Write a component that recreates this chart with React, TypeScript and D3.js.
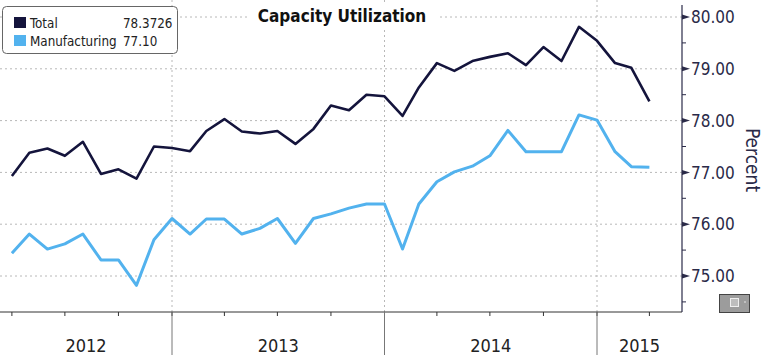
import React from "react";
import * as d3 from "d3";

const months = [
  "2012-04","2012-05","2012-06","2012-07","2012-08","2012-09","2012-10","2012-11","2012-12",
  "2013-01","2013-02","2013-03","2013-04","2013-05","2013-06","2013-07","2013-08","2013-09","2013-10","2013-11","2013-12",
  "2014-01","2014-02","2014-03","2014-04","2014-05","2014-06","2014-07","2014-08","2014-09","2014-10","2014-11","2014-12",
  "2015-01","2015-02","2015-03","2015-04",
];
const total = [
  76.93, 77.38, 77.46, 77.32, 77.59, 76.97, 77.06, 76.88, 77.50,
  77.47, 77.41, 77.80, 78.03, 77.79, 77.75, 77.80, 77.55, 77.84, 78.29, 78.20, 78.50,
  78.47, 78.09, 78.64, 79.11, 78.96, 79.15, 79.23, 79.30, 79.07, 79.42, 79.15, 79.81,
  79.54, 79.11, 79.02, 78.37,
];
const manufacturing = [
  75.44, 75.81, 75.52, 75.62, 75.81, 75.31, 75.31, 74.82, 75.70,
  76.11, 75.81, 76.10, 76.10, 75.81, 75.92, 76.11, 75.63, 76.11, 76.20, 76.31, 76.39,
  76.39, 75.52, 76.39, 76.82, 77.01, 77.12, 77.32, 77.81, 77.40, 77.40, 77.40, 78.11,
  78.01, 77.40, 77.11, 77.10,
];
const yTicks = [75, 76, 77, 78, 79, 80];
const yMinorTicks = [74.5, 75.5, 76.5, 77.5, 78.5, 79.5];
const years = [2012, 2013, 2014, 2015];
const legendItems = [
  { name: "Total", value: "78.3726", color: "#14143c" },
  { name: "Manufacturing", value: "77.10", color: "#52b2ee" },
];
const title = "Capacity Utilization";
const yLabel = "Percent";

const W = 768, H = 355;
const plotLeft = 0, plotRight = 682, axisY = 312, plotTop = 5;
const font = "'DejaVu Sans Condensed', 'DejaVu Sans', sans-serif";
const textColor = "#2a2a48";

const parse = d3.timeParse("%Y-%m");

export default function App() {
  const dates = months.map((m) => parse(m) as Date);
  const x = d3
    .scaleTime()
    .domain([new Date(2013, 0, 1), new Date(2015, 0, 1)])
    .range([172, 597]);
  const y = d3.scaleLinear().domain([75, 80]).range([276, 17]);

  const line = d3
    .line<number>()
    .x((_, i) => x(dates[i]))
    .y((v) => y(v));

  const xStart = x.invert(plotLeft);
  const xEnd = x.invert(plotRight);
  const quarterTicks = d3.timeMonth.every(3)!.range(xStart, xEnd);
  const yearBounds = years.map((yr) => new Date(yr, 0, 1));

  return (
    <svg
      width={W}
      height={H}
      style={{ position: "absolute", left: 0, top: 0, background: "#fff" }}
      fontFamily={font}
    >
      <rect x={0} y={0} width={W} height={H} fill="#fff" />
      {yTicks.map((t) => (
        <line key={"hg" + t} x1={plotLeft} x2={plotRight} y1={y(t)} y2={y(t)}
          stroke="#b8b8b8" strokeDasharray="2,3" strokeWidth={1} />
      ))}
      {yearBounds.slice(1).map((d, i) => (
        <line key={"vg" + i} x1={x(d)} x2={x(d)} y1={0} y2={axisY}
          stroke="#b8b8b8" strokeDasharray="2,3" strokeWidth={1} />
      ))}
      <rect x={248} y={5} width={190} height={22} fill="#fff" />
      <text x={342} y={22} textAnchor="middle" fontWeight="bold" fontSize={17} fill="#111">
        {title}
      </text>
      <path d={line(manufacturing) || ""} fill="none" stroke={legendItems[1].color} strokeWidth={3} strokeLinejoin="round" />
      <path d={line(total) || ""} fill="none" stroke={legendItems[0].color} strokeWidth={2.6} strokeLinejoin="round" />
      <line x1={plotLeft} x2={plotRight} y1={axisY} y2={axisY} stroke="#333" strokeWidth={1} />
      {quarterTicks.map((d, i) => (
        <line key={"qt" + i} x1={x(d)} x2={x(d)} y1={axisY} y2={axisY + 4} stroke="#333" strokeWidth={1} />
      ))}
      {yearBounds.slice(1).map((d, i) => (
        <line key={"yd" + i} x1={x(d)} x2={x(d)} y1={axisY} y2={H} stroke="#777" strokeWidth={1} />
      ))}
      {years.map((yr, i) => {
        const a = Math.max(plotLeft, x(yearBounds[i]));
        const b = i + 1 < years.length ? x(yearBounds[i + 1]) : plotRight;
        return (
          <text key={"yl" + yr} x={(a + b) / 2} y={352} textAnchor="middle" fontSize={18} fill="#222">
            {yr}
          </text>
        );
      })}
      <line x1={plotRight} x2={plotRight} y1={plotTop} y2={axisY} stroke={textColor} strokeWidth={1.2} />
      {yMinorTicks.map((t) => (
        <line key={"ymt" + t} x1={plotRight} x2={plotRight + 4} y1={y(t)} y2={y(t)} stroke={textColor} strokeWidth={1} />
      ))}
      {yTicks.map((t) => (
        <g key={"yt" + t}>
          <path d={`M${plotRight},${y(t) - 2.5}L${plotRight + 8},${y(t)}L${plotRight},${y(t) + 2.5}Z`} fill={textColor} />
          <text x={691} y={y(t)} dy="0.36em" fontSize={17} fill={textColor}>
            {t.toFixed(2)}
          </text>
        </g>
      ))}
      <text transform={`translate(746,160) rotate(90)`} textAnchor="middle" fontSize={19} fill={textColor}>
        {yLabel}
      </text>
      <rect x={719.5} y={294.5} width={30} height={18} fill="#9c9c9c" stroke="#444" strokeWidth={1} />
      <rect x={730.5} y={298.5} width={8} height={8} fill="#bdbdbd" stroke="#eee" strokeWidth={1} />
      <circle cx={745} cy={302} r={0.8} fill="#eee" />
      <rect x={2.5} y={6.5} width={175} height={47} rx={4} fill="#fff" stroke="#666" strokeWidth={1} />
      {legendItems.map((it, i) => (
        <g key={it.name}>
          <rect x={14} y={17 + i * 18} width={12} height={11} fill={it.color} />
          <text x={30} y={28 + i * 18} fontSize={13.3} fill="#222">{it.name}</text>
          <text x={123} y={28 + i * 18} fontSize={13.3} fill="#222">{it.value}</text>
        </g>
      ))}
    </svg>
  );
}
